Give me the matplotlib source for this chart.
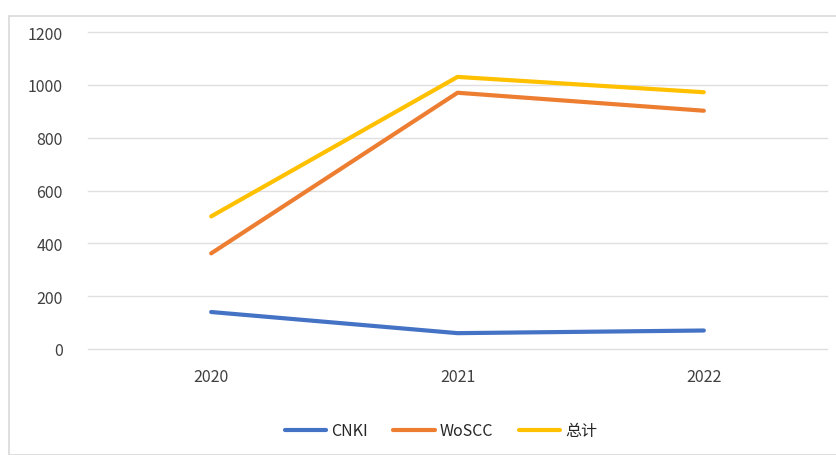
import matplotlib
matplotlib.use("Agg")
import matplotlib.pyplot as plt
from matplotlib.patches import Rectangle

plt.rcParams['font.family'] = ['Noto Sans CJK SC', 'DejaVu Sans']

years = ["2020", "2021", "2022"]
cnki = [140, 60, 70]
woscc = [362, 970, 902]
total = [502, 1030, 972]
series_names = ["CNKI", "WoSCC", "总计"]
colors = ["#4472C4", "#ED7D31", "#FFC000"]
yticks = [0, 200, 400, 600, 800, 1000, 1200]

fig = plt.figure(figsize=(8.37, 4.56), dpi=100)
fig.patches.append(Rectangle((9/837, 0), 1, 1 - 17/456, transform=fig.transFigure,
                             facecolor='none', edgecolor='#d9d9d9', lw=1.2))
ax = fig.add_axes([88/837, 1 - 350/456, (827-88)/837, (350-33)/456])

for yv in yticks:
    ax.axhline(yv, color='#e0e0e0', lw=1, clip_on=False, zorder=0)

x = range(len(years))
for vals, name, c in zip([cnki, woscc, total], series_names, colors):
    ax.plot(x, vals, color=c, lw=3, label=name, solid_capstyle='round', solid_joinstyle='round')

ax.set_xlim(-0.5, 2.5)
ax.set_ylim(0, 1200)
ax.set_yticks(yticks)
ax.set_xticks(list(x))
ax.set_xticklabels(years)
for s in ax.spines.values():
    s.set_visible(False)
ax.tick_params(length=0, labelsize=11.5, labelcolor='#404040')
ax.tick_params(axis='y', pad=18)
ax.tick_params(axis='x', pad=14)

leg = fig.legend(loc='center', bbox_to_anchor=(441/837, 1 - 432/456), ncol=3, frameon=False,
                 fontsize=11.5, handlelength=2.6, handletextpad=0.3, columnspacing=1.6)
for t in leg.get_texts():
    t.set_color('#262626')

fig.savefig("out.png", dpi=100)
